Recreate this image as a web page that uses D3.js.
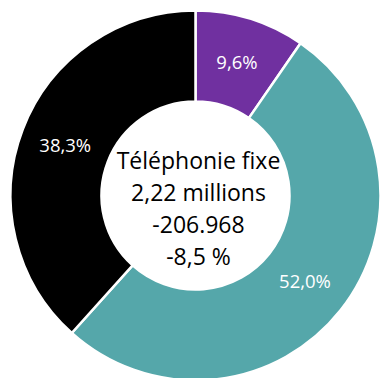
<!DOCTYPE html>
<html><head><meta charset="utf-8">
<script src="https://cdn.jsdelivr.net/npm/d3@7"></script>
<style>html,body{margin:0;padding:0;background:#fff;overflow:hidden}</style>
</head><body><svg id="c" width="382" height="378"></svg>
<script>
const categories = ["A", "B", "C"];
const values = [9.6, 52.0, 38.3];
const labels = ["9,6%", "52,0%", "38,3%"];
const colors = ["#7030A0", "#55A7AA", "#000000"];
const centerLines = ["Téléphonie fixe", "2,22 millions", "-206.968", "-8,5 %"];

const svg = d3.select("#c");
const cx = 195.5, cy = 195.5, R = 185, r = 94;
const g = svg.append("g").attr("transform", `translate(${cx},${cy})`);
const pie = d3.pie().sort(null).value(d => d)(values);
const arc = d3.arc().innerRadius(r).outerRadius(R);
g.selectAll("path").data(pie).join("path")
  .attr("d", arc).attr("fill", (d,i) => colors[i])
  .attr("stroke", "#fff").attr("stroke-width", 2.5);
g.selectAll("text.lbl").data(pie).join("text").attr("class","lbl")
  .attr("x", d => arc.centroid(d)[0]).attr("y", d => arc.centroid(d)[1])
  .attr("dy", "0.35em").attr("text-anchor", "middle")
  .attr("fill", "#fff").attr("font-family", "Open Sans, sans-serif").attr("font-size", 18.5)
  .text((d,i) => labels[i]);
const ty = [-35, -3, 29, 61];
g.selectAll("text.ctr").data(centerLines).join("text").attr("class","ctr")
  .attr("x", 3).attr("y", (d,i) => ty[i]).attr("dy", "0.35em").attr("text-anchor", "middle")
  .attr("fill", "#000").attr("font-family", "Open Sans, sans-serif").attr("font-size", 23)
  .text(d => d);
</script></body></html>
